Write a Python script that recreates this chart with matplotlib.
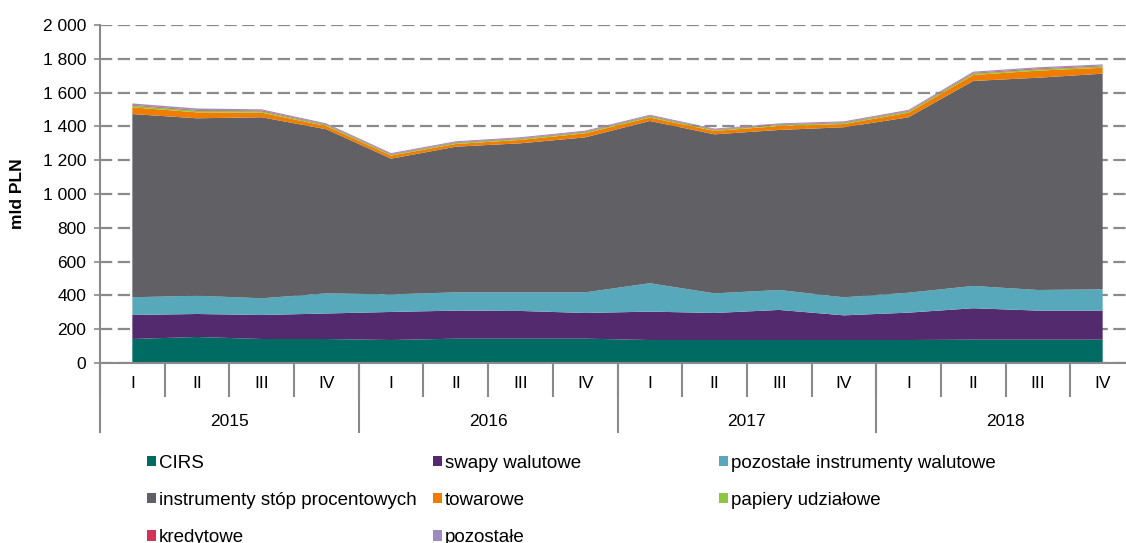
import numpy as np
import matplotlib.pyplot as plt
from matplotlib.patches import Patch
from matplotlib.transforms import blended_transform_factory

plt.rcParams['font.family'] = ['Liberation Sans', 'DejaVu Sans']

years = ["2015", "2016", "2017", "2018"]
quarters = ["I", "II", "III", "IV"]

# mld PLN
cirs = [142, 154, 142, 142, 136, 144, 144, 144, 136, 136, 136, 136, 136, 138, 138, 138]
swapy = [142, 136, 142, 151, 166, 166, 164, 152, 168, 160, 178, 146, 162, 186, 172, 172]
poz_walutowe = [105, 108, 99, 119, 104, 108, 110, 122, 168, 116, 118, 107, 118, 132, 122, 126]
stopy = [1084, 1050, 1071, 971, 803, 862, 882, 917, 960, 941, 947, 1006, 1038, 1213, 1256, 1276]
towarowe = [40, 35, 27, 19, 18, 16, 20, 24, 20, 20, 23, 19, 27, 35, 42, 35]
udzialowe = [10, 10, 9, 7, 6, 7, 7, 7, 8, 6, 7, 7, 8, 9, 9, 9]
kredytowe = [4, 4, 4, 3, 3, 3, 3, 3, 3, 3, 3, 3, 3, 4, 4, 4]
pozostale = [9, 9, 7, 6, 6, 6, 6, 6, 6, 5, 6, 6, 6, 7, 7, 7]

labels = ["CIRS", "swapy walutowe", "pozostałe instrumenty walutowe",
          "instrumenty stóp procentowych", "towarowe", "papiery udziałowe",
          "kredytowe", "pozostałe"]
colors = ["#006b63", "#532a6e", "#57a8bb", "#616065", "#f07d00", "#8dc63f",
          "#d2335a", "#a08bbe"]

fs = 12.5
grey = "#8a8a8a"

fig = plt.figure(figsize=(11.26, 5.43), dpi=100)
ax = fig.add_axes([100/1126, 1 - 363/543, 1035/1126, 338/543])

x = np.arange(len(cirs))
series = [cirs, swapy, poz_walutowe, stopy, towarowe, udzialowe, kredytowe, pozostale]
polys = ax.stackplot(x, *series, colors=colors, linewidth=0)

ax.set_xlim(-0.5, len(x) - 0.5)
ax.set_ylim(0, 2000)
ax.set_yticks(np.arange(0, 2001, 200))
ax.set_yticklabels([f"{v:,}".replace(",", " ") for v in range(0, 2001, 200)])
ax.set_axisbelow(True)
ax.yaxis.grid(True, color=grey, linewidth=1.6, linestyle=(0, (5.5, 2.5)))
ax.tick_params(axis="y", direction="out", length=4, color=grey, width=1.2,
               labelsize=fs, pad=6)

for s in ["top", "right"]:
    ax.spines[s].set_visible(False)
for s in ["left", "bottom"]:
    ax.spines[s].set_color(grey)
    ax.spines[s].set_linewidth(1.5)

# dwupoziomowa oś kategorii
ax.set_xticks(np.arange(-0.5, len(x), 1))
ax.set_xticklabels([])
ax.tick_params(axis="x", direction="out", length=34 * 72 / 100, color=grey, width=1.5)
ax.set_xticks(x, minor=True)
ax.set_xticklabels(quarters * len(years), minor=True)
ax.tick_params(axis="x", which="minor", length=0, labelsize=fs, pad=9)

trans = blended_transform_factory(ax.transData, ax.transAxes)
for i in range(len(years) + 1):
    xb = i * 4 - 0.5
    ax.plot([xb, xb], [0, -69 / 338], transform=trans, color=grey, lw=1.5,
            clip_on=False)
for i, yr in enumerate(years):
    ax.text(i * 4 + 1.5, -58 / 338, yr, transform=trans, ha="center",
            va="center", fontsize=fs)

fig.text(18 / 1126, 1 - 194 / 543, "mld PLN", rotation=90, ha="center",
         va="center", fontsize=fs, fontweight="bold")

# legenda: trzy kolumny o równej szerokości
cols = [[0, 3, 6], [1, 4, 7], [2, 5]]
col_x = [147, 433, 719]
for cx, idx in zip(col_x, cols):
    handles = [Patch(facecolor=colors[k], edgecolor="none") for k in idx]
    fig.legend(handles, [labels[k] for k in idx], loc="upper left",
               bbox_to_anchor=(cx / 1126, 1 - 454.5 / 543), frameon=False,
               fontsize=13.5, handlelength=0.5, handleheight=0.5,
               handletextpad=0.12, labelspacing=1.08, borderpad=0,
               borderaxespad=0)

fig.savefig("out.png", dpi=100)
